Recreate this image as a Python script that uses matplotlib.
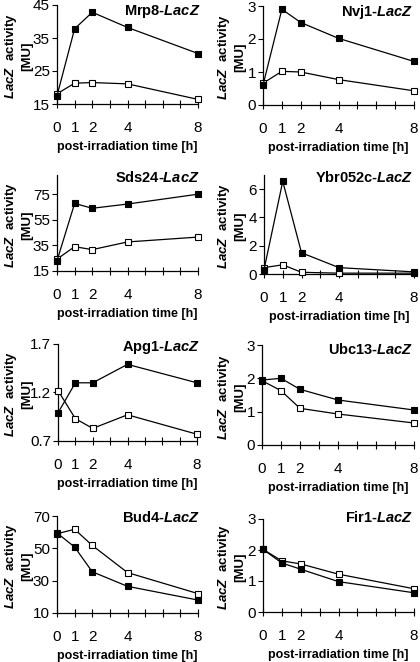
import matplotlib
matplotlib.use('Agg')
import matplotlib.pyplot as plt

plt.rcParams['font.family'] = 'Liberation Sans'
plt.rcParams['mathtext.fontset'] = 'custom'
plt.rcParams['mathtext.it'] = 'Liberation Sans:style=italic:weight=bold'
plt.rcParams['mathtext.rm'] = 'Liberation Sans:weight=bold'

W, H = 420, 662

times = [0, 1, 2, 4, 8]
time_labels = ['0', '1', '2', '', '4', '', '', '', '8']

genes = ['Mrp8', 'Nvj1', 'Sds24', 'Ybr052c', 'Apg1', 'Ubc13', 'Bud4', 'Fir1']

# irradiated (filled squares)
mrp8_f = [17.5, 37.8, 42.8, 38.2, 30.3]
nvj1_f = [0.6, 2.9, 2.5, 2.02, 1.32]
sds24_f = [23, 67.8, 64, 67.3, 75]
ybr052c_f = [0.3, 6.55, 1.5, 0.45, 0.15]
apg1_f = [0.99, 1.30, 1.30, 1.49, 1.30]
ubc13_f = [1.95, 2.0, 1.67, 1.35, 1.05]
bud4_f = [59.5, 50.8, 35.5, 26.5, 18]
fir1_f = [2.02, 1.58, 1.38, 0.98, 0.62]

# control (open squares)
mrp8_o = [18.1, 21.3, 21.5, 21.1, 16.4]
nvj1_o = [0.66, 1.02, 1.0, 0.77, 0.43]
sds24_o = [24.3, 34, 31.7, 37.7, 41.5]
ybr052c_o = [0.45, 0.65, 0.12, 0.06, 0.06]
apg1_o = [1.22, 0.93, 0.83, 0.97, 0.77]
ubc13_o = [1.93, 1.63, 1.1, 0.93, 0.66]
bud4_o = [59, 61.8, 51.8, 35, 22]
fir1_o = [2.02, 1.65, 1.55, 1.22, 0.75]

filled = [mrp8_f, nvj1_f, sds24_f, ybr052c_f, apg1_f, ubc13_f, bud4_f, fir1_f]
opened = [mrp8_o, nvj1_o, sds24_o, ybr052c_o, apg1_o, ubc13_o, bud4_o, fir1_o]

ylims = [(15, 45), (0, 3), (15, 90), (0, 7), (0.7, 1.7), (0, 3), (10, 70), (0, 3)]
yticks = [[15, 25, 35, 45], [0, 1, 2, 3], [15, 35, 55, 75], [0, 2, 4, 6],
          [0.7, 1.2, 1.7], [0, 1, 2, 3], [10, 30, 50, 70], [0, 1, 2, 3]]

# axes boxes in pixels: left, top, right, bottom
boxes = [(57, 5, 198, 104), (263, 6, 414, 105),
         (57, 175, 198, 271), (264, 175, 414, 274),
         (58, 344, 197, 441), (262, 345, 414, 445),
         (57, 516, 198, 613), (263, 519, 414, 612)]
# title centre heights / right edges (px)
title_y = [12, 12, 178, 178, 348, 350, 518, 518]
title_r = [200, 413, 200, 413, 200, 413, 200, 413]

fig = plt.figure(figsize=(W / 100, H / 100), dpi=100)

for i, g in enumerate(genes):
    l, t, r, b = boxes[i]
    ax = fig.add_axes([l / W, 1 - b / H, (r - l) / W, (b - t) / H])
    ax.plot(times, opened[i], '-s', color='black', lw=0.9, ms=4.6,
            mfc='white', mec='black', mew=0.8, clip_on=False, zorder=3)
    ax.plot(times, filled[i], '-s', color='black', lw=0.9, ms=4.6,
            mfc='black', mec='black', mew=0.8, clip_on=False, zorder=4)
    ax.set_xlim(0, 8)
    ax.set_ylim(*ylims[i])
    ax.set_yticks(yticks[i])
    ax.set_yticklabels([('%g' % v) for v in yticks[i]])
    ax.set_xticks(range(9))
    ax.set_xticklabels(time_labels)
    for s in ['top', 'right']:
        ax.spines[s].set_visible(False)
    for s in ['left', 'bottom']:
        ax.spines[s].set_linewidth(0.9)
    ax.tick_params(axis='x', direction='inout', length=6, width=0.8,
                   labelsize=11, pad=9)
    ax.tick_params(axis='y', direction='out', length=3.6, width=0.8,
                   labelsize=11, pad=1.5)
    ax.set_xlabel('post-irradiation time [h]', fontsize=9, fontweight='bold',
                  labelpad=4.5)
    ax.patch.set_visible(False)

    # panel title at top right
    fig.text(title_r[i] / W, 1 - title_y[i] / H, g + '-$\\mathit{LacZ}$',
             fontsize=10.5, fontweight='bold', ha='right', va='center')
    # y label
    xl = 18 if l < 150 else 231
    fig.text(xl / W, 1 - ((t + b) / 2 + 2) / H,
             '$\\mathit{LacZ}$  activity\n[MU]', rotation=90, fontsize=9.5,
             fontweight='bold', ha='center', va='center', multialignment='center',
             linespacing=1.25)

fig.savefig('out.png', dpi=100)
